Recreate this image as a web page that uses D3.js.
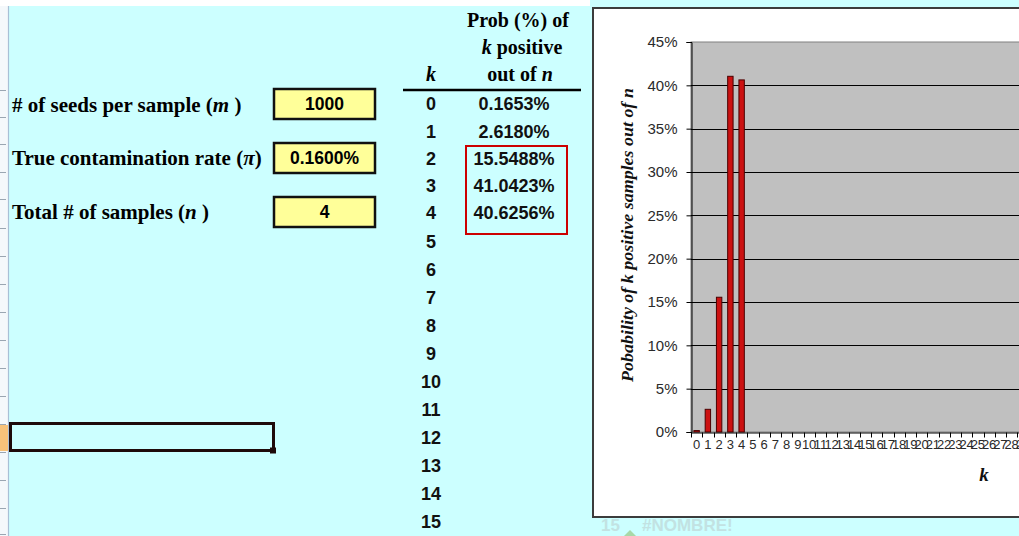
<!DOCTYPE html>
<html>
<head>
<meta charset="utf-8">
<script src="https://cdn.jsdelivr.net/npm/d3@7"></script>
<style>
  html, body { margin: 0; padding: 0; background: #ccffff; overflow: hidden; }
  svg { display: block; }
</style>
</head>
<body>
<svg id="sheet" width="1019" height="536"></svg>
<script>
// ---- worksheet inputs ----
const inputLabels = ["# of seeds per sample (", "True contamination rate (", "Total # of samples ("];
const inputSymbols = ["m", "\u03c0", "n"];
const inputValues = ["1000", "0.1600%", "4"];

// ---- probability table ----
const kRows = [0, 1, 2, 3, 4, 5, 6, 7, 8, 9, 10, 11, 12, 13, 14, 15];
const probValues = [0.1653, 2.6180, 15.5488, 41.0423, 40.6256];   // % for k = 0..4

// ---- chart axes ----
const xCategories = [0, 1, 2, 3, 4, 5, 6, 7, 8, 9, 10, 11, 12, 13, 14, 15, 16, 17, 18, 19,
                     20, 21, 22, 23, 24, 25, 26, 27, 28, 29, 30];
const yTicks = [0, 5, 10, 15, 20, 25, 30, 35, 40, 45];

const fmtProb = d3.format(".4f");
const serif = "'Liberation Serif', 'Times New Roman', serif";
const sans = "'Liberation Sans', Arial, sans-serif";

const svg = d3.select("#sheet");

// sheet background
svg.append("rect").attr("width", 1019).attr("height", 536).attr("fill", "#ccffff");
svg.append("rect").attr("width", 590).attr("height", 6).attr("fill", "#ffffff");

// row layout of the worksheet
const rowY = i => i < 5 ? 104 + i * 27.2 : 242 + (i - 5) * 28;

// row-header strip on the left edge
svg.append("rect").attr("x", 0).attr("y", 6).attr("width", 8).attr("height", 530).attr("fill", "#f4f8fb");
svg.append("line").attr("x1", 8.5).attr("x2", 8.5).attr("y1", 6).attr("y2", 536)
  .attr("stroke", "#a8bfd6").attr("stroke-width", 1.2);
const rowEdges = kRows.map(i => rowY(i) - 14).concat([rowY(15) + 12]);
svg.append("g").selectAll("line").data(rowEdges).join("line")
  .attr("x1", 0).attr("x2", 6).attr("y1", d => Math.round(d) + 0.5).attr("y2", d => Math.round(d) + 0.5)
  .attr("stroke", "#9aa6b2").attr("stroke-width", 1);
svg.append("rect").attr("x", 0).attr("y", rowY(12) - 13).attr("width", 8).attr("height", 26)
  .attr("fill", "#f7c27a");

// active cell selection
svg.append("rect").attr("x", 10.5).attr("y", rowY(12) - 14.5).attr("width", 263).attr("height", 27)
  .attr("fill", "none").attr("stroke", "#1e0a0a").attr("stroke-width", 3);
svg.append("rect").attr("x", 270).attr("y", rowY(12) + 9.5).attr("width", 6).attr("height", 6)
  .attr("fill", "#1e0a0a");

// input labels and boxes
const inputBaselines = [112, 165, 219];
const inputBoxTops = [89, 143, 197];
inputLabels.forEach((lab, i) => {
  const t = svg.append("text").attr("x", 12).attr("y", inputBaselines[i])
    .attr("font-family", serif).attr("font-weight", "bold").attr("font-size", 21).attr("fill", "#000");
  t.append("tspan").text(lab);
  t.append("tspan").attr("font-style", "italic").text(inputSymbols[i]);
  t.append("tspan").text(i === 1 ? ")" : " )");

  svg.append("rect").attr("x", 274).attr("y", inputBoxTops[i]).attr("width", 101).attr("height", 30)
    .attr("fill", "#ffff99").attr("stroke", "#111").attr("stroke-width", 2.5);
  svg.append("text").attr("x", 324.5).attr("y", inputBoxTops[i] + 15).attr("dy", "0.36em")
    .attr("text-anchor", "middle").attr("font-family", sans).attr("font-weight", "bold")
    .attr("font-size", 17.5).attr("fill", "#000").text(inputValues[i]);
});

// table header
const hdr = svg.append("g").attr("font-family", serif).attr("font-weight", "bold")
  .attr("font-size", 20).attr("fill", "#000").attr("text-anchor", "middle");
hdr.append("text").attr("x", 518).attr("y", 27).text("Prob (%) of");
const h2 = hdr.append("text").attr("x", 522).attr("y", 54);
h2.append("tspan").attr("font-style", "italic").text("k");
h2.append("tspan").text(" positive");
const h3 = hdr.append("text").attr("x", 520).attr("y", 81);
h3.append("tspan").text("out of ");
h3.append("tspan").attr("font-style", "italic").text("n");
hdr.append("text").attr("x", 431).attr("y", 81).attr("font-style", "italic").text("k");
svg.append("line").attr("x1", 403).attr("x2", 581).attr("y1", 90).attr("y2", 90)
  .attr("stroke", "#000").attr("stroke-width", 2.5);

// table body
const body = svg.append("g").attr("font-family", sans).attr("font-weight", "bold")
  .attr("font-size", 18).attr("fill", "#111").attr("text-anchor", "middle");
body.selectAll("text.k").data(kRows).join("text").attr("class", "k")
  .attr("x", 431).attr("y", (d, i) => rowY(i)).attr("dy", "0.36em").text(d => d);
body.selectAll("text.p").data(probValues).join("text").attr("class", "p")
  .attr("x", 514).attr("y", (d, i) => rowY(i)).attr("dy", "0.36em").text(d => fmtProb(d) + "%");
svg.append("rect").attr("x", 466).attr("y", 146).attr("width", 101).attr("height", 88)
  .attr("fill", "none").attr("stroke", "#cc0000").attr("stroke-width", 2);

// cell text partly hidden behind the chart
const ghost = svg.append("g").attr("font-family", sans).attr("font-weight", "bold")
  .attr("font-size", 17).attr("fill", "#c2e2e2");
ghost.append("text").attr("x", 601).attr("y", 531).text("15");
ghost.append("text").attr("x", 642).attr("y", 531).text("#NOMBRE!");
svg.append("path").attr("d", "M624,536 L630,530 L636,536 Z").attr("fill", "#a8d8a8");

// ---- chart ----
const chart = svg.append("g");
const step = 11.25;
const plotL = 691, plotT = 42, plotB = 432;
const plotR = plotL + xCategories.length * step;

chart.append("rect").attr("x", 593).attr("y", 8).attr("width", plotR + 30 - 593).attr("height", 509)
  .attr("fill", "#ffffff").attr("stroke", "#3c3c3c").attr("stroke-width", 2);

const x = d3.scaleBand().domain(xCategories).range([plotL, plotR])
  .paddingInner(0.52).paddingOuter(0.26);
const y = d3.scaleLinear().domain([0, 45]).range([plotB, plotT]);

chart.append("rect").attr("x", plotL).attr("y", y(45)).attr("width", plotR - plotL)
  .attr("height", y(0) - y(45)).attr("fill", "#c0c0c0").attr("stroke", "#808080").attr("stroke-width", 1);

// horizontal gridlines
chart.append("g").selectAll("line").data(yTicks.filter(d => d > 0 && d < 45)).join("line")
  .attr("x1", plotL).attr("x2", plotR)
  .attr("y1", d => Math.round(y(d)) + 0.5).attr("y2", d => Math.round(y(d)) + 0.5)
  .attr("stroke", "#000").attr("stroke-width", 1);

// bars
chart.append("g").selectAll("rect").data(probValues).join("rect")
  .attr("x", (d, i) => x(xCategories[i])).attr("width", x.bandwidth())
  .attr("y", d => y(d)).attr("height", d => y(0) - y(d))
  .attr("fill", "#cc1111").attr("stroke", "#4a0000").attr("stroke-width", 1);

// y axis
const yAxis = chart.append("g").attr("transform", `translate(${plotL + 0.5},0)`)
  .call(d3.axisLeft(y).tickValues(yTicks).tickFormat(d => d + "%").tickSize(5).tickPadding(9));
yAxis.attr("font-size", null).attr("font-family", null);
yAxis.select(".domain").attr("stroke", "#000");
yAxis.selectAll(".tick line").attr("stroke", "#000");
yAxis.selectAll("text").style("font-family", sans).style("font-size", "15px").attr("fill", "#2a2a2a");

// x axis
const xAxis = chart.append("g").attr("transform", `translate(0,${plotB + 0.5})`)
  .call(d3.axisBottom(x).tickSize(0).tickPadding(7));
xAxis.attr("font-size", null).attr("font-family", null);
xAxis.select(".domain").attr("stroke", "#000");
xAxis.selectAll("text").style("font-family", sans).style("font-size", "13px").attr("fill", "#2a2a2a");
// tick marks between categories
xAxis.append("g").selectAll("line").data(d3.range(xCategories.length + 1)).join("line")
  .attr("x1", i => Math.round(plotL + i * x.step()) + 0.5)
  .attr("x2", i => Math.round(plotL + i * x.step()) + 0.5)
  .attr("y1", 0).attr("y2", 5).attr("stroke", "#000");

// axis titles
const yt = chart.append("text").attr("transform", "translate(633,235) rotate(-90)")
  .attr("text-anchor", "middle").attr("font-family", serif).attr("font-weight", "bold")
  .attr("font-style", "italic").attr("font-size", 16.5).attr("fill", "#111")
  .attr("textLength", 294).attr("lengthAdjust", "spacingAndGlyphs");
yt.text("Pobability of k positive samples out of n");
chart.append("text").attr("x", 984).attr("y", 481).attr("text-anchor", "middle")
  .attr("font-family", serif).attr("font-weight", "bold").attr("font-style", "italic")
  .attr("font-size", 19).attr("fill", "#111").text("k");
</script>
</body>
</html>
